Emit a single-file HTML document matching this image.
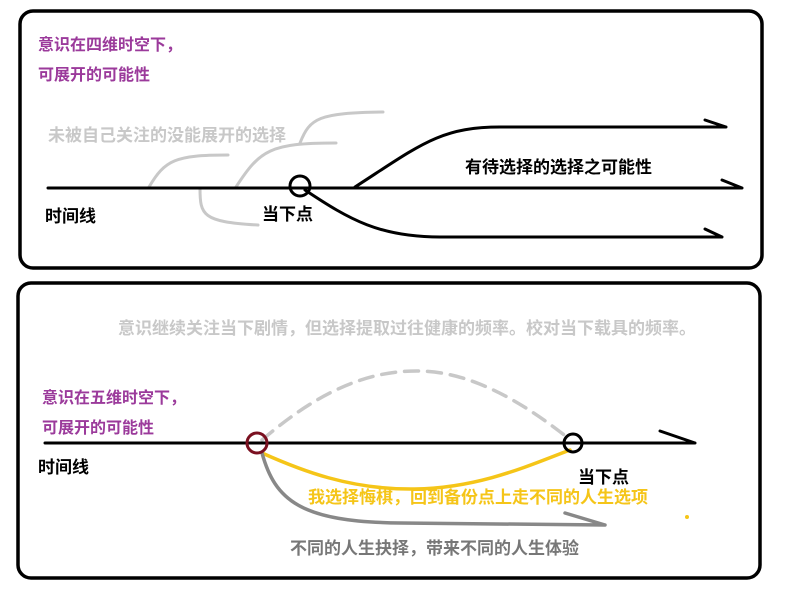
<!DOCTYPE html>
<html><head><meta charset="utf-8"><style>
body{margin:0;background:#fff;width:788px;height:586px;overflow:hidden}
svg text{font-family:"Liberation Sans","Noto Sans CJK SC",sans-serif;font-weight:bold}
</style></head><body>
<svg width="788" height="586" viewBox="0 0 788 586" xmlns="http://www.w3.org/2000/svg">
<rect x="20" y="11" width="742" height="257" rx="13" fill="none" stroke="#000" stroke-width="3.5"/>
<rect x="18" y="283" width="742" height="295" rx="13" fill="none" stroke="#000" stroke-width="3.5"/>
<g fill="none" stroke-linecap="round">
<path d="M149 187 C165 160 175 155 228 155" stroke="#c8c8c8" stroke-width="3"/>
<path d="M236 187 C260 150 270 143 336 143" stroke="#c8c8c8" stroke-width="3"/>
<path d="M300 143 C310 118 318 113 383 112" stroke="#c8c8c8" stroke-width="3"/>
<path d="M200 188 C200 215 202 222 258 225" stroke="#c8c8c8" stroke-width="3"/>
<path d="M48 188 L742 188 M722 180 L742 188" stroke="#000" stroke-width="3"/>
<path d="M355 187 C420 145 440 127 500 127 L726 127 M705 120 L726 127" stroke="#000" stroke-width="3"/>
<path d="M305 190 C350 220 380 237 440 237 L722 237 M705 229 L722 237" stroke="#000" stroke-width="3"/>
<circle cx="300" cy="186" r="10" stroke="#000" stroke-width="3"/>
<path d="M262 440 C320 390 370 370 420 371 C470 372 520 400 568 438" stroke="#c8c8c8" stroke-width="3.5" stroke-dasharray="14 9"/>
<path d="M45 443 L695 443 M660 431 L695 443" stroke="#000" stroke-width="3"/>
<path d="M262 453 C300 470 350 490 415 489 C480 488 530 465 570 450" stroke="#f5c518" stroke-width="3.5"/>
<path d="M262 453 C275 500 300 522 400 523 L605 525 M565 513 L605 525" stroke="#888" stroke-width="3.5"/>
<circle cx="257" cy="443" r="10" stroke="#7a1020" stroke-width="3"/>
<circle cx="573" cy="443" r="9" stroke="#000" stroke-width="3"/>
</g>
<circle cx="687" cy="517" r="2" fill="#f5c518"/>
<g font-size="17">
<text x="38" y="50" fill="#9b3a9b" font-size="16">意识在四维时空下，</text>
<text x="38" y="80" fill="#9b3a9b" font-size="16">可展开的可能性</text>
<text x="48" y="141" fill="#c8c8c8">未被自己关注的没能展开的选择</text>
<text x="45" y="222" fill="#000">时间线</text>
<text x="262" y="220" fill="#000">当下点</text>
<text x="465" y="173" fill="#000">有待选择的选择之可能性</text>
<text x="118" y="334" fill="#c8c8c8">意识继续关注当下剧情，但选择提取过往健康的频率。校对当下载具的频率。</text>
<text x="42" y="403" fill="#9b3a9b" font-size="16">意识在五维时空下，</text>
<text x="42" y="433" fill="#9b3a9b" font-size="16">可展开的可能性</text>
<text x="38" y="473" fill="#000">时间线</text>
<text x="578" y="483" fill="#000">当下点</text>
<text x="308" y="503" fill="#f5c518">我选择悔棋，回到备份点上走不同的人生选项</text>
<text x="290" y="554" fill="#777">不同的人生抉择，带来不同的人生体验</text>
</g>
</svg>
</body></html>
